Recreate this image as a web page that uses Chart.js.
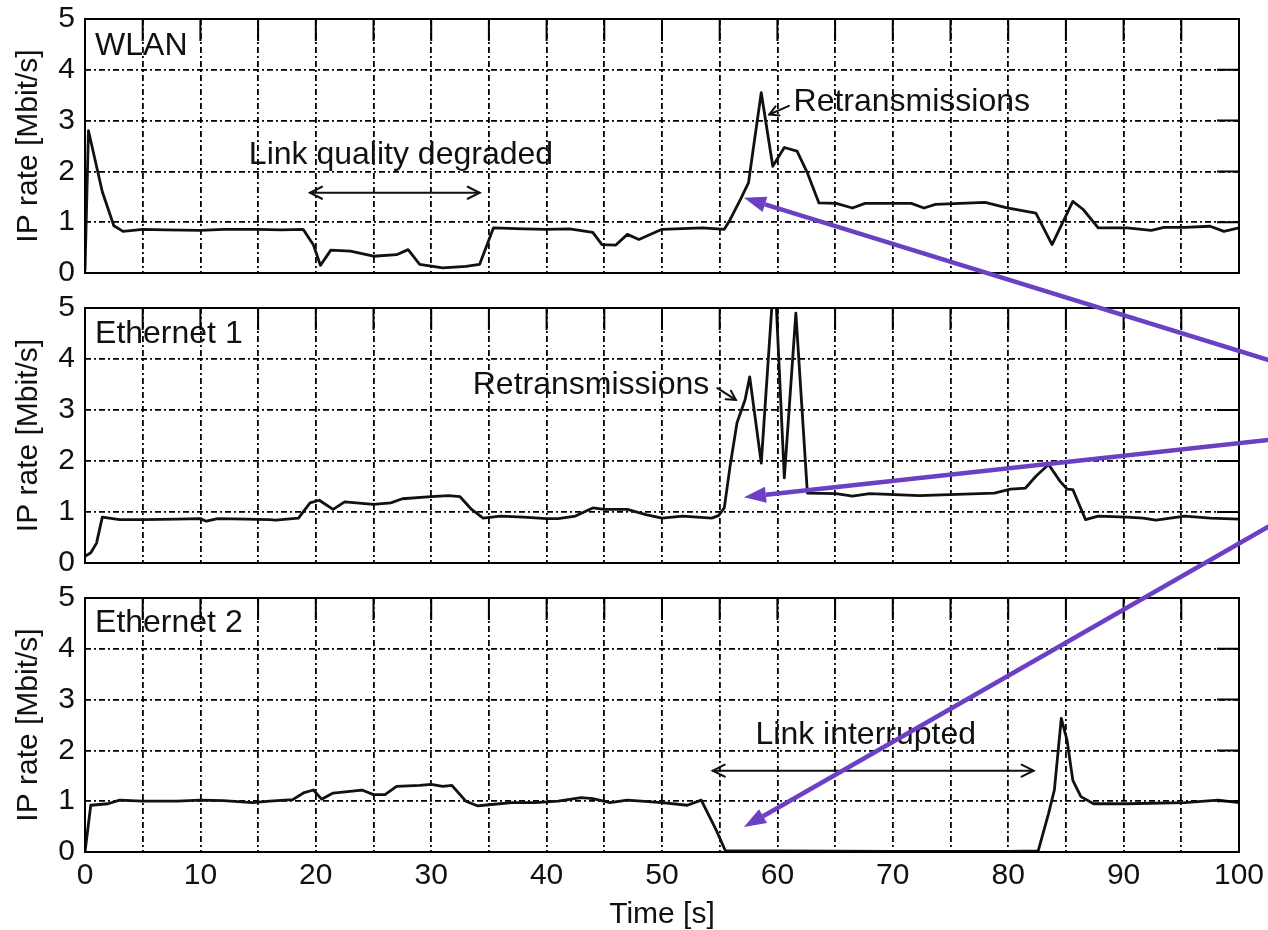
<!DOCTYPE html>
<html>
<head>
<meta charset="utf-8">
<title>IP rate per link</title>
<script src="https://cdn.jsdelivr.net/npm/chart.js@4.4.1/dist/chart.umd.min.js"></script>
<style>
  html, body { margin: 0; padding: 0; background: #fff; }
  #wrap { position: relative; width: 1268px; height: 930px; overflow: hidden; }
  #wrap canvas { position: absolute; left: 0; }
</style>
</head>
<body>
<div id="wrap">
  <canvas id="wlan" width="1268" height="290" style="top:0px"></canvas>
  <canvas id="eth1" width="1268" height="290" style="top:290px"></canvas>
  <canvas id="eth2" width="1268" height="350" style="top:580px"></canvas>
  <canvas id="pointers" width="1268" height="930" style="top:0px"></canvas>
</div>
<script>
// axis ticks: grid every 5 s, labels every 10 s
const timeTicks = [0, 5, 10, 15, 20, 25, 30, 35, 40, 45, 50, 55, 60, 65, 70, 75, 80, 85, 90, 95, 100];
const rateTicks = [0, 1, 2, 3, 4, 5];

// WLAN link
const wlanTime = [0, 0.3, 1.5, 2.5, 3.3, 5, 7, 10, 12, 15, 17, 18.9, 19.8, 20.4, 21.3, 23, 25, 27, 28, 29,
  31, 33, 34.2, 35.4, 38, 40, 42, 44, 44.8, 46, 47, 48, 50, 53.5, 55.4, 55.9, 56.8, 57.5, 57.9, 58.6,
  59.6, 60.6, 61.7, 62.6, 63.6, 65.1, 66.5, 67.6, 71.6, 72.7, 73.7, 78, 79.9, 82.4, 83.8, 85.6, 86.5, 87.8, 90.3, 92.4,
  93.5, 95.3, 97.5, 98.7, 100];
const wlanRate = [0.05, 2.8, 1.6, 0.93, 0.82, 0.86, 0.85, 0.84, 0.86, 0.86, 0.85, 0.86, 0.55, 0.15, 0.45, 0.43, 0.33, 0.36, 0.46, 0.17,
  0.1, 0.13, 0.17, 0.89, 0.87, 0.86, 0.87, 0.8, 0.56, 0.55, 0.76, 0.66, 0.86, 0.89, 0.86, 1.05, 1.45, 1.78, 2.43, 3.55,
  2.1, 2.47, 2.4, 1.97, 1.38, 1.37, 1.28, 1.37, 1.37, 1.28, 1.35, 1.39, 1.28, 1.18, 0.56, 1.41, 1.25, 0.89, 0.89, 0.84,
  0.9, 0.9, 0.92, 0.82, 0.89];

// Ethernet 1 link
const eth1Time = [0, 0.5, 1, 1.5, 3, 5, 8, 10, 10.5, 11.5, 14, 16, 16.5, 18.5, 19.5, 20.3, 21.5, 22.5, 25, 26.5,
  27.5, 30, 31.5, 32.5, 33.5, 34.5, 36, 38, 40, 41, 42.5, 44, 45, 47, 48.6, 50, 51.8, 54.3, 54.9, 55.4,
  55.9, 56.5, 57.2, 57.6, 58.6, 59.75, 60.6, 61.6, 62.6, 65.1, 66.5, 68, 72.3, 78.8, 80.2, 81.5, 82.4, 83.5, 84.5, 85.1,
  85.6, 86.7, 87.8, 90.3, 91.7, 92.8, 95.3, 97.5, 100];
const eth1Rate = [0.13, 0.2, 0.39, 0.9, 0.85, 0.85, 0.86, 0.87, 0.82, 0.87, 0.86, 0.85, 0.84, 0.88, 1.18, 1.23, 1.05, 1.2, 1.15, 1.18,
  1.26, 1.3, 1.32, 1.3, 1.05, 0.88, 0.92, 0.9, 0.87, 0.87, 0.92, 1.08, 1.05, 1.05, 0.95, 0.88, 0.92, 0.88, 0.93, 1.08,
  1.9, 2.75, 3.2, 3.65, 1.96, 5.8, 1.67, 4.9, 1.37, 1.36, 1.31, 1.36, 1.32, 1.37, 1.45, 1.47, 1.7, 1.93, 1.6, 1.45,
  1.44, 0.85, 0.92, 0.9, 0.88, 0.84, 0.92, 0.88, 0.86];

// Ethernet 2 link
const eth2Time = [0, 0.5, 2, 3, 5, 8, 10, 12, 14.5, 16, 18, 19, 19.8, 20.5, 21.5, 24, 25, 26, 27, 29,
  30, 31, 31.8, 33, 34, 35, 37, 39, 41, 43, 44, 45.5, 47, 50, 52.2, 53.4, 54.7, 55.5, 60, 70,
  80, 82.6, 83.5, 84, 84.6, 85.1, 85.6, 86.3, 87.4, 90.3, 95.3, 98.2, 100];
const eth2Rate = [0, 0.92, 0.95, 1.02, 1.0, 1.0, 1.02, 1.01, 0.97, 1.0, 1.03, 1.17, 1.22, 1.04, 1.16, 1.22, 1.13, 1.13, 1.29, 1.31,
  1.33, 1.29, 1.31, 1.0, 0.91, 0.93, 0.97, 0.97, 1.0, 1.07, 1.05, 0.97, 1.02, 0.97, 0.92, 1.02, 0.43, 0.02, 0.02, 0.01,
  0.01, 0.02, 0.76, 1.22, 2.63, 2.2, 1.41, 1.09, 0.95, 0.95, 0.97, 1.02, 0.97];

const FONT = '"Liberation Sans", Arial, sans-serif';
const INK = '#111';
const TICK_LEN = 22;

// text and black arrows inside each panel, in data units
const panelNotes = {
  wlan: {
    texts: [
      { text: 'WLAN', x: 0.87, y: 4.3 },
      { text: 'Link quality degraded', x: 14.2, y: 2.15 },
      { text: 'Retransmissions', x: 61.4, y: 3.18 }
    ],
    spans: [{ from: 19.5, to: 34.2, y: 1.58 }],
    pointers: [{ x1: 61.0, y1: 3.29, x2: 59.3, y2: 3.12 }]
  },
  eth1: {
    texts: [
      { text: 'Ethernet 1', x: 0.87, y: 4.31 },
      { text: 'Retransmissions', x: 33.6, y: 3.31 }
    ],
    spans: [],
    pointers: [{ x1: 54.8, y1: 3.43, x2: 56.4, y2: 3.2 }]
  },
  eth2: {
    texts: [
      { text: 'Ethernet 2', x: 0.87, y: 4.33 },
      { text: 'Link interrupted', x: 58.1, y: 2.13 }
    ],
    spans: [{ from: 54.4, to: 82.2, y: 1.6 }],
    pointers: []
  }
};

// purple callouts running in from the right edge (panel index, data units)
const linkPointers = [
  { from: [1, 104, 3.88], to: [0, 57.1, 1.48] },
  { from: [1, 104, 2.45], to: [1, 57.1, 1.29] },
  { from: [1, 104, 0.90], to: [2, 57.1, 0.49] }
];

function openHead(ctx, fx, fy, tx, ty, len, half) {
  const a = Math.atan2(ty - fy, tx - fx);
  ctx.beginPath();
  ctx.moveTo(tx - len * Math.cos(a) + half * Math.sin(a), ty - len * Math.sin(a) - half * Math.cos(a));
  ctx.lineTo(tx, ty);
  ctx.lineTo(tx - len * Math.cos(a) - half * Math.sin(a), ty - len * Math.sin(a) + half * Math.cos(a));
  ctx.stroke();
}

const notes = {
  id: 'notes',
  afterDatasetsDraw(chart) {
    const n = panelNotes[chart.canvas.id];
    const { ctx } = chart;
    const x = chart.scales.x, y = chart.scales.y;
    ctx.save();
    ctx.fillStyle = INK;
    ctx.strokeStyle = INK;
    ctx.font = '32px ' + FONT;
    ctx.textAlign = 'left';
    ctx.textBaseline = 'alphabetic';
    n.texts.forEach(t => ctx.fillText(t.text, x.getPixelForValue(t.x), y.getPixelForValue(t.y)));
    ctx.lineWidth = 2;
    ctx.lineCap = 'round';
    n.spans.forEach(s => {
      const x1 = x.getPixelForValue(s.from), x2 = x.getPixelForValue(s.to), py = y.getPixelForValue(s.y);
      ctx.beginPath();
      ctx.moveTo(x1, py);
      ctx.lineTo(x2, py);
      ctx.stroke();
      openHead(ctx, x2, py, x1, py, 12, 6);
      openHead(ctx, x1, py, x2, py, 12, 6);
    });
    n.pointers.forEach(p => {
      const ax = x.getPixelForValue(p.x1), ay = y.getPixelForValue(p.y1);
      const bx = x.getPixelForValue(p.x2), by = y.getPixelForValue(p.y2);
      ctx.beginPath();
      ctx.moveTo(ax, ay);
      ctx.lineTo(bx, by);
      ctx.stroke();
      openHead(ctx, ax, ay, bx, by, 9, 5);
    });
    ctx.restore();
  }
};

// box around the plot with inward ticks on top and right
const frame = {
  id: 'frame',
  afterDraw(chart) {
    const { ctx, chartArea: a } = chart;
    const x = chart.scales.x, y = chart.scales.y;
    ctx.save();
    ctx.strokeStyle = '#000';
    ctx.lineWidth = 2;
    ctx.beginPath();
    x.ticks.forEach(t => {
      const px = x.getPixelForValue(t.value);
      ctx.moveTo(px, a.top);
      ctx.lineTo(px, a.top + TICK_LEN);
    });
    y.ticks.forEach(t => {
      const py = y.getPixelForValue(t.value);
      ctx.moveTo(a.right, py);
      ctx.lineTo(a.right - TICK_LEN, py);
    });
    ctx.stroke();
    ctx.strokeRect(a.left, a.top, a.right - a.left, a.bottom - a.top);
    ctx.restore();
  }
};

const gridLook = { color: '#000', lineWidth: 1.8, drawTicks: false };
const gridBorder = { display: false, dash: [6, 3, 2, 3] };

function makePanel(id, times, rates, topPad, withTimeAxis) {
  return new Chart(document.getElementById(id), {
    type: 'line',
    data: {
      datasets: [{
        data: times.map((t, i) => ({ x: t, y: rates[i] })),
        borderColor: INK,
        borderWidth: 2.8,
        borderJoinStyle: 'round',
        pointRadius: 0,
        tension: 0
      }]
    },
    options: {
      responsive: false,
      animation: false,
      events: [],
      layout: { padding: { top: topPad, right: 29, bottom: withTimeAxis ? 0 : 17, left: 0 } },
      plugins: { legend: { display: false }, tooltip: { enabled: false } },
      scales: {
        x: {
          type: 'linear', min: 0, max: 100,
          afterBuildTicks: s => { s.ticks = timeTicks.map(v => ({ value: v })); },
          afterFit: s => {
            s.height = withTimeAxis ? 78 : 0;
            s.paddingLeft = 0;
            s.paddingRight = 0;
          },
          ticks: {
            display: withTimeAxis, autoSkip: false, maxRotation: 0, padding: 9,
            color: INK, font: { family: FONT, size: 30, lineHeight: 1 },
            callback: v => (v % 10 === 0 ? String(v) : '')
          },
          grid: gridLook,
          border: gridBorder,
          title: {
            display: withTimeAxis, text: 'Time [s]', color: INK,
            font: { family: FONT, size: 30, lineHeight: 1 }, padding: 0
          }
        },
        y: {
          min: 0, max: 5,
          afterBuildTicks: s => { s.ticks = rateTicks.map(v => ({ value: v })); },
          afterFit: s => {
            s.width = 85;
            s.paddingTop = 0;
            s.paddingBottom = 0;
          },
          ticks: { padding: 10, color: INK, font: { family: FONT, size: 30, lineHeight: 1 } },
          grid: gridLook,
          border: gridBorder,
          title: {
            display: true, text: 'IP rate [Mbit/s]', color: INK,
            font: { family: FONT, size: 30, lineHeight: 1.2 }, padding: { top: 11, bottom: 0 }
          }
        }
      }
    },
    plugins: [notes, frame]
  });
}

const charts = [
  makePanel('wlan', wlanTime, wlanRate, 19, false),
  makePanel('eth1', eth1Time, eth1Rate, 18, false),
  makePanel('eth2', eth2Time, eth2Rate, 18, true)
];

function pagePoint(p) {
  const c = charts[p[0]];
  return [c.scales.x.getPixelForValue(p[1]), c.scales.y.getPixelForValue(p[2]) + c.canvas.offsetTop];
}

const overlay = document.getElementById('pointers').getContext('2d');
overlay.strokeStyle = '#6b40c4';
overlay.fillStyle = '#6b40c4';
overlay.lineWidth = 4.5;
linkPointers.forEach(lp => {
  const [sx, sy] = pagePoint(lp.from);
  const [tx, ty] = pagePoint(lp.to);
  const a = Math.atan2(ty - sy, tx - sx);
  const len = 22, half = 8;
  const bx = tx - len * Math.cos(a), by = ty - len * Math.sin(a);
  overlay.beginPath();
  overlay.moveTo(sx, sy);
  overlay.lineTo(bx, by);
  overlay.stroke();
  overlay.beginPath();
  overlay.moveTo(tx, ty);
  overlay.lineTo(bx + half * Math.sin(a), by - half * Math.cos(a));
  overlay.lineTo(bx - half * Math.sin(a), by + half * Math.cos(a));
  overlay.closePath();
  overlay.fill();
});
</script>
</body>
</html>
